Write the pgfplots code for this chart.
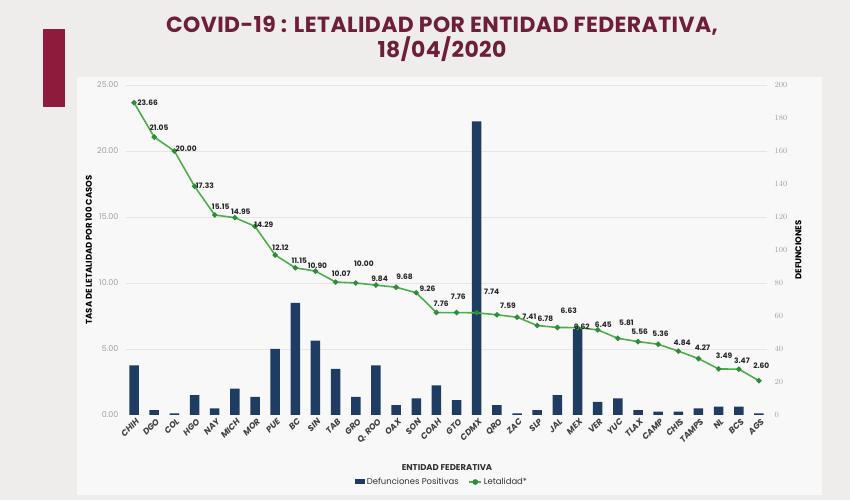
\documentclass[border=0pt]{standalone}
\usepackage{fontspec}
\setmainfont{Poppins}
\usepackage{pgfplots}
\usepackage{pgfplotstable}
\pgfplotsset{compat=1.18}
\definecolor{navy}{HTML}{1F3D63}
\definecolor{lgreen}{HTML}{4DAE4A}
\definecolor{dgreen}{HTML}{2E8B3A}
\definecolor{maroon}{HTML}{6E1E3A}
\definecolor{redbar}{HTML}{8E1B3C}
\definecolor{tickgray}{HTML}{A0A0A0}
\definecolor{bggray}{HTML}{EFEDEB}
\definecolor{panel}{HTML}{F8F8F8}
\definecolor{gridc}{HTML}{E6E6E6}

\pgfplotstableread{
x def let dx dy
0 30 23.66 2 0
1 3 21.05 -6 9
2 1 20.00 0 2
3 12 17.33 0 0
4 4 15.15 -4 8
5 16 14.95 -5 6
6 11 14.29 -2 2
7 40 12.12 -4 7
8 68 11.15 -5 7
9 45 10.90 -9 5
10 28 10.07 -5 8
11 11 10.00 -3 19
12 30 9.84 -6 6
13 6 9.68 -1 10
14 10 9.26 2 4
15 18 7.76 -4 9
16 9 7.76 -7 16
17 178 7.74 6 21
18 6 7.59 2 9
19 1 7.41 4 0
20 3 6.78 -1 7
21 12 6.63 2 17
22 52 6.62 -5 1
23 8 6.45 -4 5
24 10 5.81 0 16
25 3 5.56 -8 10
26 2 5.36 -7 11
27 2 4.84 -6 8
28 4 4.27 -5 11
29 5 3.49 -4 13
30 5 3.47 -6 8
31 1 2.60 -7 15
}\data

\begin{document}
\begin{tikzpicture}[x=1bp,y=1bp]
\useasboundingbox (0,0) rectangle (850,500);
\fill[bggray] (0,0) rectangle (850,500);
\fill[panel] (77,5) rectangle (822,423);
\fill[redbar] (43,393) rectangle (65,471);
\node[font=\fontsize{22}{24.5}\selectfont\bfseries\addfontfeature{LetterSpace=2}, text=maroon, align=center] at (442,461) {COVID-19 : LETALIDAD POR ENTIDAD FEDERATIVA,\\18/04/2020};

% bars, right axis
\begin{axis}[
  at={(126bp,85bp)}, anchor=south west, scale only axis,
  width=641bp, height=330bp,
  xmin=-0.4, xmax=31.4, ymin=0, ymax=200,
  axis line style={draw=none}, tick style={draw=none},
  axis y line*=right, axis x line*=bottom,
  ytick={0,20,...,200},
  yticklabel style={font=\fontsize{8}{9}\selectfont, text=tickgray, anchor=west, xshift=4bp},
  extra y ticks={40,80,120,160,200},
  extra y tick labels={},
  extra y tick style={grid=major, major grid style={gridc, line width=0.8pt}},
  xtick={0,...,31},
  xticklabels={CHIH,DGO,COL,HGO,NAY,MICH,MOR,PUE,BC,SIN,TAB,GRO,Q. ROO,OAX,SON,COAH,GTO,CDMX,QRO,ZAC,SLP,JAL,MEX,VER,YUC,TLAX,CAMP,CHIS,TAMPS,NL,BCS,AGS},
  xticklabel style={rotate=45, anchor=north east, font=\fontsize{8.5}{9}\selectfont\bfseries\itshape, text=black!75, inner sep=1bp, yshift=-2bp},
  xlabel={ENTIDAD FEDERATIVA},
  xlabel style={at={(axis description cs:0.5008,-0.158)}, anchor=center, font=\fontsize{8.5}{9}\selectfont\bfseries, text=black!80},
  ylabel={DEFUNCIONES},
  ylabel style={at={(axis description cs:1.049,0.5)}, anchor=center, rotate=0, font=\fontsize{8.5}{9}\selectfont\bfseries},
]
\addplot[ybar, bar width=9.5bp, fill=navy, draw=none] table[x=x, y=def] {\data};
\end{axis}

% line, left axis
\begin{axis}[
  at={(126bp,85bp)}, anchor=south west, scale only axis,
  width=641bp, height=330bp,
  xmin=-0.4, xmax=31.4, ymin=0, ymax=25,
  axis line style={draw=none}, tick style={draw=none},
  axis y line*=left, xtick=\empty,
  ytick={0,5,...,25},
  yticklabel style={font=\fontsize{8}{9}\selectfont, text=tickgray, anchor=east, xshift=-4bp, /pgf/number format/.cd, fixed, fixed zerofill, precision=2, assume math mode=true},
  ylabel={TASA DE LETALIDAD POR 100 CASOS},
  ylabel style={at={(axis description cs:-0.058,0.5)}, anchor=center, font=\fontsize{8.5}{9}\selectfont\bfseries},
  legend style={at={(axis description cs:0.493,-0.203)}, anchor=center, draw=none, fill=none, font=\fontsize{8.5}{9}\selectfont, text=black!80, legend columns=2, /tikz/every even column/.append style={column sep=8bp}},
  legend image code/.code={},
]
\addlegendimage{area legend, fill=navy, draw=none, legend image code/.code={\fill[navy] (0bp,-2.5bp) rectangle (10bp,3bp);}}
\addlegendentry{Defunciones Positivas}
\addplot[lgreen, line width=1.6pt, mark=*, mark size=1.8pt, mark options={fill=dgreen, draw=dgreen},
  legend image code/.code={\draw[lgreen, line width=1.2pt] (0bp,0bp) -- (12bp,0bp); \fill[dgreen] (6bp,0bp) circle (2bp);},
  nodes near coords, point meta=explicit,
  visualization depends on={\thisrow{dx} \as \ldx},
  visualization depends on={\thisrow{dy} \as \ldy},
  every node near coord/.append style={anchor=west, font=\fontsize{7.5}{8}\selectfont\bfseries, text=black!85, inner sep=0.5bp, xshift=\ldx bp, yshift=\ldy bp, /pgf/number format/.cd, fixed, fixed zerofill, precision=2, assume math mode=true},
] table[x=x, y=let, meta=let] {\data};
\addlegendentry{Letalidad*}
\end{axis}
\end{tikzpicture}
\end{document}
